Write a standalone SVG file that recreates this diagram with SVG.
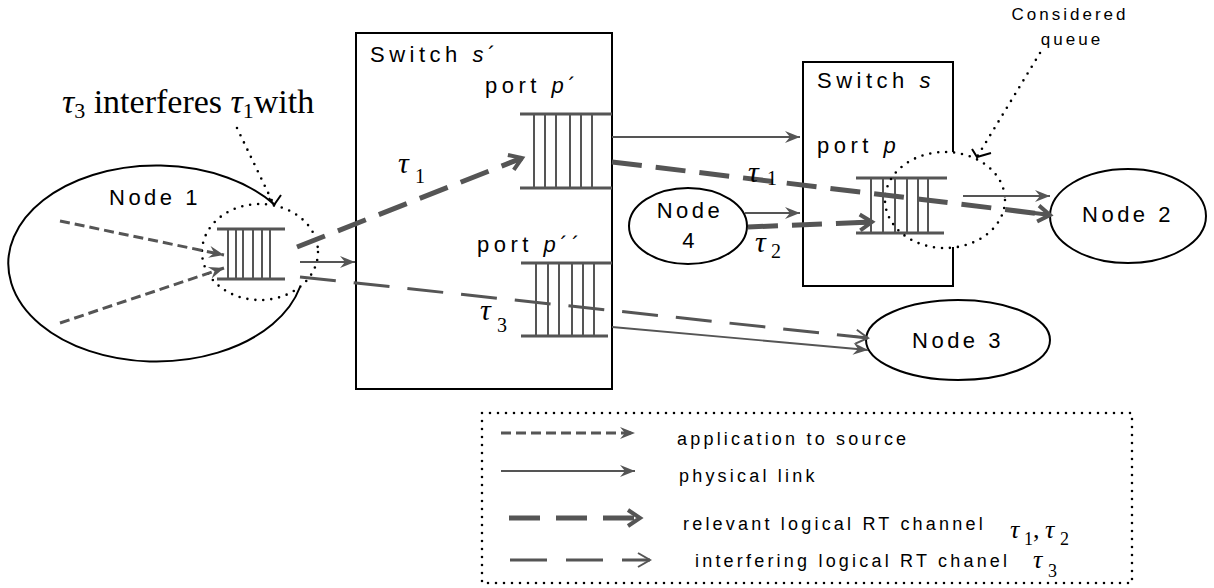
<svg xmlns="http://www.w3.org/2000/svg" width="1214" height="588" viewBox="0 0 1214 588">
<style>
.sans{font-family:"Liberation Sans",Arial,sans-serif;fill:#000}
.lbl{font-size:22px;letter-spacing:4.5px}
.nd{font-size:22px;letter-spacing:3.5px}
.lg{font-size:18px;letter-spacing:3.2px}
.serif{font-family:"Liberation Serif","Times New Roman",serif;fill:#000}
.tau{font-style:italic}
.box{fill:none;stroke:#000;stroke-width:2}
.dot{fill:none;stroke:#000;stroke-width:2.6;stroke-dasharray:0 8;stroke-linecap:round}
.qh{stroke:#555;stroke-width:3}
.qv{stroke:#555;stroke-width:2}
.app{fill:none;stroke:#555;stroke-width:3;stroke-dasharray:10 5}
.phy{fill:none;stroke:#555;stroke-width:1.8}
.rel{fill:none;stroke:#555;stroke-width:5;stroke-dasharray:30 14}
.itf{fill:none;stroke:#555;stroke-width:3;stroke-dasharray:36 18}
</style>
<defs>
<marker id="fa" markerUnits="userSpaceOnUse" viewBox="-17 -8 19 16" markerWidth="19" markerHeight="16" refX="0" refY="0" orient="auto"><path d="M0,0 L-15,-6 L-10,0 L-15,6 Z" fill="#555"/></marker>
<marker id="ch" markerUnits="userSpaceOnUse" viewBox="-18 -12 24 24" markerWidth="24" markerHeight="24" refX="0" refY="0" orient="auto"><path d="M-12,-8 L0,0 L-12,8 M-16,0 L0,0" fill="none" stroke="#555" stroke-width="4"/></marker>
<marker id="op" markerUnits="userSpaceOnUse" viewBox="-16 -10 20 20" markerWidth="20" markerHeight="20" refX="0" refY="0" orient="auto"><path d="M-12,-7 L0,0 L-12,7 M-14,0 L0,0" fill="none" stroke="#555" stroke-width="2"/></marker>
</defs>
<rect width="1214" height="588" fill="#fff"/>

<text class="serif" font-size="34" y="113"><tspan x="62" class="tau">τ</tspan><tspan font-size="22" dy="5">3</tspan><tspan dy="-5"> interferes </tspan><tspan class="tau">τ</tspan><tspan font-size="22" dy="5">1</tspan><tspan dy="-5">with</tspan></text>

<g id="node1">
<path class="box" d="M275,205 A148,98 0 1,0 300,287"/>
<text class="sans nd" x="109" y="205">Node 1</text>
<g id="queue1">
<line class="qh" x1="217" y1="229" x2="285" y2="229"/>
<line class="qh" x1="217" y1="279" x2="285" y2="279"/>
<path class="qv" d="M228,229V279M236,229V279M243,229V279M253,229V279M262,229V279M270,229V279"/>
</g>
<ellipse class="dot" cx="260" cy="252" rx="58" ry="48"/>
</g>

<g id="switch-s-prime">
<rect class="box" x="356" y="33" width="256" height="356"/>
<text class="sans lbl" x="370" y="62">Switch <tspan font-style="italic">s</tspan>´</text>
<text class="sans lbl" x="485" y="93">port <tspan font-style="italic">p</tspan>´</text>
<g id="port-p-prime">
<line class="qh" x1="520" y1="114" x2="612" y2="114"/>
<line class="qh" x1="520" y1="188" x2="612" y2="188"/>
<path class="qv" d="M534,114V188M545,114V188M556,114V188M570,114V188M581,114V188M592,114V188"/>
</g>
<text class="sans lbl" x="477" y="252">port <tspan font-style="italic">p</tspan>´´</text>
<g id="port-p-dprime">
<line class="qh" x1="521" y1="263" x2="612" y2="263"/>
<line class="qh" x1="521" y1="336" x2="608" y2="336"/>
<path class="qv" d="M536,263V336M548,263V336M559,263V336M572,263V336M583,263V336M594,263V336"/>
</g>
</g>

<g id="switch-s">
<path class="box" d="M953,152V62H803V286H953V247"/>
<text class="sans lbl" x="817" y="88">Switch <tspan font-style="italic">s</tspan></text>
<text class="sans lbl" x="817" y="153">port <tspan font-style="italic">p</tspan></text>
<g id="port-p">
<line class="qh" x1="856" y1="178" x2="947" y2="178"/>
<line class="qh" x1="856" y1="233" x2="944" y2="233"/>
<path class="qv" d="M871,178V233M883,178V233M895,178V233M907,178V233M918,178V233M928,178V233"/>
</g>
<ellipse class="dot" cx="945" cy="200" rx="60" ry="48"/>
<text class="sans" font-size="17" letter-spacing="3" x="1070" y="20" text-anchor="middle">Considered</text>
<text class="sans" font-size="17" letter-spacing="3" x="1072" y="45" text-anchor="middle">queue</text>
</g>

<g id="node4">
<ellipse class="box" cx="688" cy="226" rx="59" ry="38"/>
<text class="sans nd" x="690" y="218" text-anchor="middle">Node</text>
<text class="sans nd" x="690" y="248" text-anchor="middle">4</text>
</g>

<g id="node2">
<ellipse class="box" cx="1128" cy="216" rx="78" ry="47"/>
<text class="sans nd" x="1128" y="222" text-anchor="middle">Node 2</text>
</g>

<g id="node3">
<ellipse class="box" cx="958" cy="340" rx="92" ry="40"/>
<text class="sans nd" x="958" y="348" text-anchor="middle">Node 3</text>
</g>

<g id="connectors">
<line class="app" x1="60" y1="221" x2="224" y2="255" marker-end="url(#fa)"/>
<line class="app" x1="60" y1="323" x2="224" y2="268" marker-end="url(#fa)"/>
<line class="phy" x1="300" y1="262" x2="355" y2="262" marker-end="url(#fa)"/>
<line class="phy" x1="612" y1="137" x2="800" y2="137" marker-end="url(#fa)"/>
<line class="phy" x1="745" y1="213" x2="800" y2="213" marker-end="url(#fa)"/>
<line class="phy" x1="963" y1="196" x2="1050" y2="196" marker-end="url(#fa)"/>
<line class="phy" x1="612" y1="327" x2="868" y2="350" marker-end="url(#fa)"/>
<line class="rel" x1="297" y1="247" x2="522" y2="158" marker-end="url(#ch)"/>
<line class="rel" x1="612" y1="162" x2="1050" y2="215" marker-end="url(#ch)"/>
<line class="rel" x1="748" y1="227" x2="872" y2="222" marker-end="url(#ch)"/>
<line class="itf" x1="300" y1="277" x2="868" y2="338" marker-end="url(#op)"/>
<line class="dot" x1="237" y1="128" x2="274" y2="205"/>
<polyline fill="none" stroke="#000" stroke-width="2" points="269,198 274,205 281,195"/>
<line class="dot" x1="1040" y1="53" x2="977" y2="157"/>
<polyline fill="none" stroke="#000" stroke-width="2" points="972,149 977,157 991,153"/>
</g>

<g id="tau-labels">
<text class="serif" font-size="30" y="173"><tspan x="398" class="tau">τ</tspan><tspan font-size="20" x="415" dy="10">1</tspan></text>
<text class="serif" font-size="30" y="320"><tspan x="480" class="tau">τ</tspan><tspan font-size="20" x="497" dy="12">3</tspan></text>
<text class="serif" font-size="30" y="182"><tspan x="748" class="tau">τ</tspan><tspan font-size="20" x="767" dy="3">1</tspan></text>
<text class="serif" font-size="30" y="252"><tspan x="755" class="tau">τ</tspan><tspan font-size="20" x="771" dy="6">2</tspan></text>
</g>

<g id="legend">
<rect class="dot" x="482" y="413" width="650" height="170"/>
<line class="app" x1="501" y1="433" x2="635" y2="433" marker-end="url(#fa)"/>
<text class="sans lg" x="677" y="445">application to source</text>
<line class="phy" x1="501" y1="471" x2="635" y2="471" marker-end="url(#fa)"/>
<text class="sans lg" x="679" y="482">physical link</text>
<line class="rel" x1="509" y1="518" x2="640" y2="518" style="stroke-dasharray:31 16"/>
<path d="M628,510 L640,518 L628,526" fill="none" stroke="#555" stroke-width="4"/>
<text class="sans lg" x="683" y="530">relevant logical RT channel</text>
<text class="serif" font-size="26" y="538"><tspan x="1010" class="tau">τ</tspan><tspan font-size="18" x="1024" dy="7">1</tspan><tspan dy="-7">, </tspan><tspan class="tau" x="1045">τ</tspan><tspan font-size="18" x="1060" dy="7">2</tspan></text>
<line class="itf" x1="510" y1="560" x2="650" y2="560" style="stroke-dasharray:37 19"/>
<path d="M638,553 L650,560 L638,567" fill="none" stroke="#555" stroke-width="2"/>
<text class="sans lg" x="695" y="567">interfering logical RT chanel</text>
<text class="serif" font-size="26" y="568"><tspan x="1033" class="tau">τ</tspan><tspan font-size="18" x="1048" dy="9">3</tspan></text>
</g>
</svg>
